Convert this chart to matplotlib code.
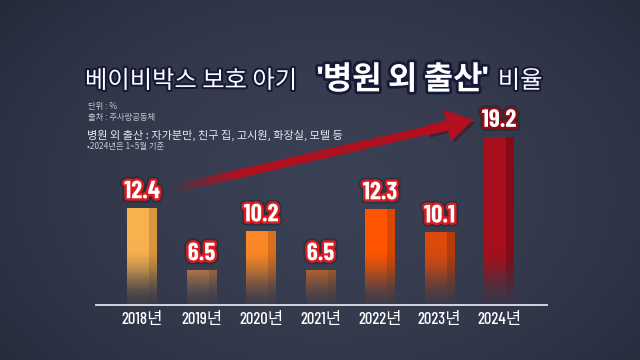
import numpy as np
import matplotlib.pyplot as plt
import matplotlib.patheffects as pe
from matplotlib import font_manager
from matplotlib.collections import LineCollection
from matplotlib.colors import to_rgb

# data
years = ['2018년', '2019년', '2020년', '2021년', '2022년', '2023년', '2024년']
ratio = [12.4, 6.5, 10.2, 6.5, 12.3, 10.1, 19.2]
bar_colors = ['#f8b14f', '#ea9149', '#fb8826', '#ee751d', '#ff5500', '#dc4a0c', '#a60f1b']
side_colors = ['#d9963f', '#c97a3c', '#d9701b', '#cc6316', '#d94800', '#b53c08', '#860a14']

title_plain = '베이비박스 보호 아기'
title_bold = "'병원 외 출산'"
title_tail = '비율'
notes = ['단위 : %', '출처 : 주사랑공동체']
note_def = '병원 외 출산 : 자가분만, 친구 집, 고시원, 화장실, 모텔 등'
note_2024 = '•2024년은 1~5월 기준'

installed = {f.name for f in font_manager.fontManager.ttflist}
narrow = next((f for f in ['Barlow Condensed', 'Archivo Narrow', 'Asap Condensed',
                           'Liberation Sans Narrow', 'Liberation Sans'] if f in installed),
              'DejaVu Sans')
KR = 'Noto Sans CJK KR'
plt.rcParams['font.family'] = [KR, 'DejaVu Sans']

W, H = 640, 360
fig = plt.figure(figsize=(6.4, 3.6), dpi=100)

# dark navy background with a soft vignette
bg = fig.add_axes([0, 0, 1, 1])
bg.axis('off')
yy, xx = np.mgrid[0:H, 0:W]
r = np.sqrt(((xx - 330) / 430.0) ** 2 + ((yy - 190) / 300.0) ** 2)
t = (np.clip(r, 0, 1) ** 1.6)[..., None]
c_in, c_out = np.array(to_rgb('#3b4154')), np.array(to_rgb('#252a3b'))
bg.imshow(c_in * (1 - t) + c_out * t, extent=(0, 1, 0, 1), aspect='auto')
bg.set_xlim(0, 1)
bg.set_ylim(0, 1)


def fx(px):
    return px / W


def fy(py):
    return 1 - py / H


# main axes: baseline at y=305px, spans x 96..547px
y0, ytop = 3.24, 22.76
ax = fig.add_axes([fx(96), fy(305), fx(547) - fx(96), (305 - 100) / H])
ax.patch.set_alpha(0)
x = np.arange(len(years))
bars = ax.bar(x, ratio, width=0.5, color='none', edgecolor='none')

# gradient fill for each bar, fading into the background near the baseline
for b, c, s in zip(bars, bar_colors, side_colors):
    top = b.get_height()
    ys = np.linspace(y0, top, 200)
    a = np.clip((ys - y0) / 5.5, 0, 1)
    a = 0.06 + 0.94 * (a * a * (3 - 2 * a))
    grad = np.zeros((200, 4, 4))
    grad[:, :3, :3] = to_rgb(c)
    grad[:, 3, :3] = to_rgb(s)
    grad[..., 3] = a[:, None]
    ax.imshow(grad, extent=(b.get_x(), b.get_x() + b.get_width(), y0, top),
              origin='lower', aspect='auto', interpolation='nearest', zorder=2)

for xi, v in zip(x, ratio):
    stroke = '#8e0c15' if v == max(ratio) else '#d81c22'
    ax.annotate(f'{v:.1f}', (xi, v), xytext=(0, 4), textcoords='offset points',
                ha='center', va='bottom', fontsize=18, fontweight='bold',
                family=[narrow, 'DejaVu Sans'], color='white', zorder=6,
                path_effects=[pe.Stroke(linewidth=6, foreground='#15181f', alpha=0.35),
                              pe.Stroke(linewidth=3.5, foreground=stroke), pe.Normal()])

# trend arrow from the 2018 bar up to the 2024 label
arrow_hex = '#b30f1f'
p0 = np.array([x[0] + 0.45, ratio[0] + 1.8])
p1 = np.array([x[-1] - 0.45, ratio[-1] + 1.66])
n = 60
pts = p0 + (p1 - p0) * np.linspace(0, 0.9, n + 1)[:, None]
segs = np.stack([pts[:-1], pts[1:]], axis=1)
alph = np.clip(np.linspace(0, 1, n) / 0.25, 0, 1)
cols = np.column_stack([np.tile(to_rgb(arrow_hex), (n, 1)), alph])
ax.add_collection(LineCollection(segs, colors=cols, linewidths=6.2, capstyle='butt',
                                 zorder=4, clip_on=False))
ax.annotate('', xy=p1, xytext=p0 + (p1 - p0) * 0.85,
            arrowprops=dict(arrowstyle='simple,head_length=1.5,head_width=1.8,tail_width=0.52',
                            mutation_scale=12, color=arrow_hex, shrinkA=0, shrinkB=0,
                            path_effects=[pe.withSimplePatchShadow(offset=(2, -2), alpha=0.4)]),
            zorder=5, annotation_clip=False)

ax.set_xlim(-0.773, 6.807)
ax.set_ylim(y0, ytop)
ax.set_xticks(x, years)
ax.set_yticks([])
ax.tick_params(axis='x', length=0, pad=5, colors='white', labelsize=12)
for lab in ax.get_xticklabels():
    lab.set_family([narrow, KR])
    lab.set_fontweight('medium')
for side in ['top', 'left', 'right']:
    ax.spines[side].set_visible(False)
ax.spines['bottom'].set_color('#dfe2ea')
ax.spines['bottom'].set_linewidth(1.3)

# title, three pieces placed one after another
renderer = fig.canvas.get_renderer()
dark = [pe.withStroke(linewidth=3, foreground='#161a38')]
t1 = fig.text(fx(85), fy(88), title_plain, fontsize=17.5, color='white', va='baseline',
              path_effects=dark)
x_next = t1.get_window_extent(renderer).x1 + 20
t2 = fig.text(x_next / W, fy(89), title_bold, fontsize=23, fontweight='bold', color='white',
              va='baseline', family=[narrow, KR],
              path_effects=[pe.withStroke(linewidth=4, foreground='#161a38')])
x_next = t2.get_window_extent(renderer).x1 + 10
fig.text(x_next / W, fy(88), title_tail, fontsize=17.5, color='white', va='baseline',
         path_effects=dark)

# notes
fig.text(fx(88), fy(106), notes[0], fontsize=6, color='#c3c7d0', va='center')
fig.text(fx(88), fy(118), notes[1], fontsize=6, color='#c3c7d0', va='center')
fig.text(fx(87), fy(135), note_def, fontsize=8, color='#e8eaef', va='center')
fig.text(fx(87), fy(147), note_2024, fontsize=6, color='#c3c7d0', va='center')

fig.savefig('out.png', dpi=100)
